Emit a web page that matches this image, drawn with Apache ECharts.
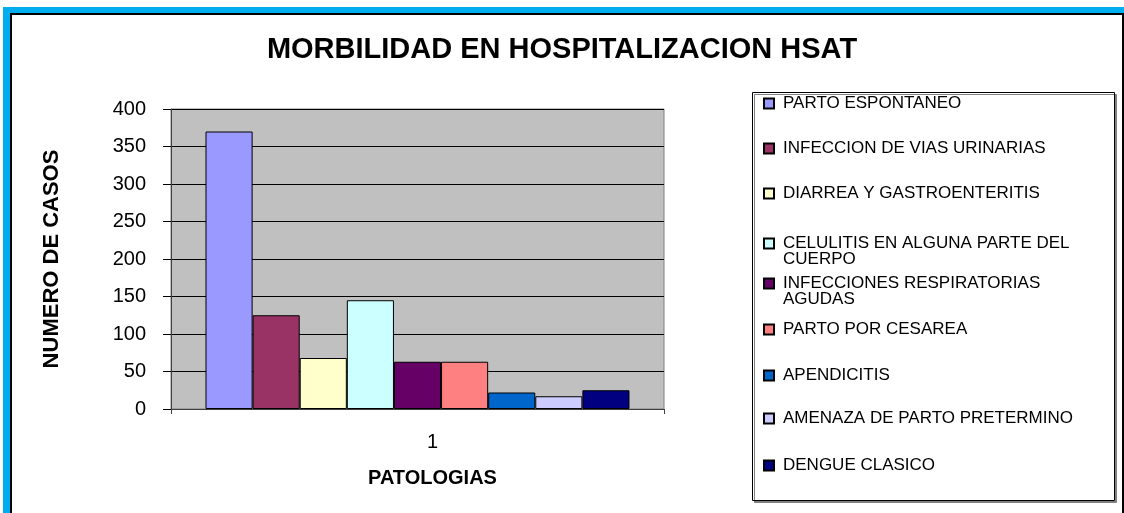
<!DOCTYPE html>
<html>
<head>
<meta charset="utf-8">
<title>Morbilidad en hospitalizacion HSAT</title>
<script src="https://cdn.jsdelivr.net/npm/echarts@6/dist/echarts.min.js"></script>
<style>
  html, body { margin: 0; padding: 0; background: #fff; }
  #chart { width: 1124px; height: 513px; }
</style>
</head>
<body>
<div id="chart"></div>
<script>
const categories = ['1']
const seriesNames = [
  'PARTO ESPONTANEO',
  'INFECCION DE VIAS URINARIAS',
  'DIARREA Y GASTROENTERITIS',
  'CELULITIS EN ALGUNA PARTE DEL CUERPO',
  'INFECCIONES RESPIRATORIAS AGUDAS',
  'PARTO POR CESAREA',
  'APENDICITIS',
  'AMENAZA DE PARTO PRETERMINO',
  'DENGUE CLASICO'
]
const legendLabels = [
  'PARTO ESPONTANEO',
  'INFECCION DE VIAS URINARIAS',
  'DIARREA Y GASTROENTERITIS',
  'CELULITIS EN ALGUNA PARTE DEL\nCUERPO',
  'INFECCIONES RESPIRATORIAS\nAGUDAS',
  'PARTO POR CESAREA',
  'APENDICITIS',
  'AMENAZA DE PARTO PRETERMINO',
  'DENGUE CLASICO'
]
const seriesValues = [370, 125, 68, 145, 63, 63, 22, 17, 25]
const seriesColors = ['#9999FF', '#993366', '#FFFFCC', '#CCFFFF', '#660066', '#FF8080', '#0066CC', '#CCCCFF', '#000080']

// layout only: vertical centre of each legend row (first text line)
const legendRowY = [103, 148, 193, 244, 284, 329, 375, 418, 465]

const FONT = '"Liberation Sans", Arial, sans-serif'
const chart = echarts.init(document.getElementById('chart'), null, { renderer: 'canvas' })

const legends = seriesNames.map((name, i) => {
  const twoLines = legendLabels[i].includes('\n')
  return {
    left: 763,
    top: legendRowY[i] - (twoLines ? 25 : 8),
    padding: 0,
    orient: 'vertical',
    icon: 'rect',
    itemWidth: 10,
    itemHeight: 10,
    selectedMode: false,
    data: [name],
    // blank first line keeps the marker level with the first text line
    formatter: () => (twoLines ? '\n' : '') + legendLabels[i],
    textStyle: {
      fontFamily: FONT,
      fontSize: 17,
      lineHeight: 16,
      color: '#000',
      padding: [0, 0, 0, 4]
    }
  }
})

const option = {
  animation: false,
  backgroundColor: '#fff',
  graphic: [
    { type: 'rect', z: -10, silent: true, shape: { x: 3, y: 7, width: 1140, height: 520 }, style: { fill: '#00AEEF' } },
    { type: 'rect', z: -9, silent: true, shape: { x: 11, y: 14, width: 1112, height: 520 }, style: { fill: '#fff', stroke: '#000', lineWidth: 2 } },
    {
      type: 'rect', z: -8, silent: true,
      shape: { x: 752.5, y: 92.5, width: 362, height: 408 },
      style: { fill: '#fff', stroke: '#000', lineWidth: 1, shadowColor: '#808080', shadowOffsetX: 2, shadowOffsetY: 2, shadowBlur: 0 }
    }
  ],
  title: {
    text: 'MORBILIDAD EN HOSPITALIZACION HSAT',
    left: 'center',
    top: 30,
    textStyle: { fontFamily: FONT, fontSize: 29, fontWeight: 'bold', color: '#000' }
  },
  legend: legends,
  grid: {
    left: 171,
    top: 109,
    width: 493,
    height: 300,
    show: true,
    backgroundColor: '#C0C0C0',
    borderColor: '#808080',
    borderWidth: 1
  },
  xAxis: {
    type: 'category',
    data: categories,
    name: 'PATOLOGIAS',
    nameLocation: 'middle',
    nameGap: 59,
    nameTextStyle: { fontFamily: FONT, fontSize: 20, fontWeight: 'bold', color: '#000', padding: [0, 0, 0, 30] },
    axisLine: { lineStyle: { color: '#404040', width: 1 } },
    axisTick: { show: true, length: 5, lineStyle: { color: '#404040' } },
    axisLabel: { fontFamily: FONT, fontSize: 20, color: '#000', margin: 23, padding: [0, 0, 0, 30] },
    splitLine: { show: false }
  },
  yAxis: {
    type: 'value',
    min: 0,
    max: 400,
    interval: 50,
    name: 'NUMERO DE CASOS',
    nameLocation: 'middle',
    nameGap: 108,
    nameTextStyle: { fontFamily: FONT, fontSize: 22, fontWeight: 'bold', color: '#000' },
    axisLine: { show: true, lineStyle: { color: '#404040', width: 1 } },
    axisTick: { show: true, inside: false, length: 8, lineStyle: { color: '#000' } },
    axisLabel: { fontFamily: FONT, fontSize: 20, color: '#000', margin: 25 },
    splitLine: { show: true, lineStyle: { color: '#000', width: 1 } }
  },
  series: seriesNames.map((name, i) => ({
    name,
    type: 'bar',
    data: [seriesValues[i]],
    barGap: '0%',
    barCategoryGap: '14%',
    itemStyle: { color: seriesColors[i], borderColor: '#000', borderWidth: 1 }
  }))
}

chart.setOption(option)
</script>
</body>
</html>
